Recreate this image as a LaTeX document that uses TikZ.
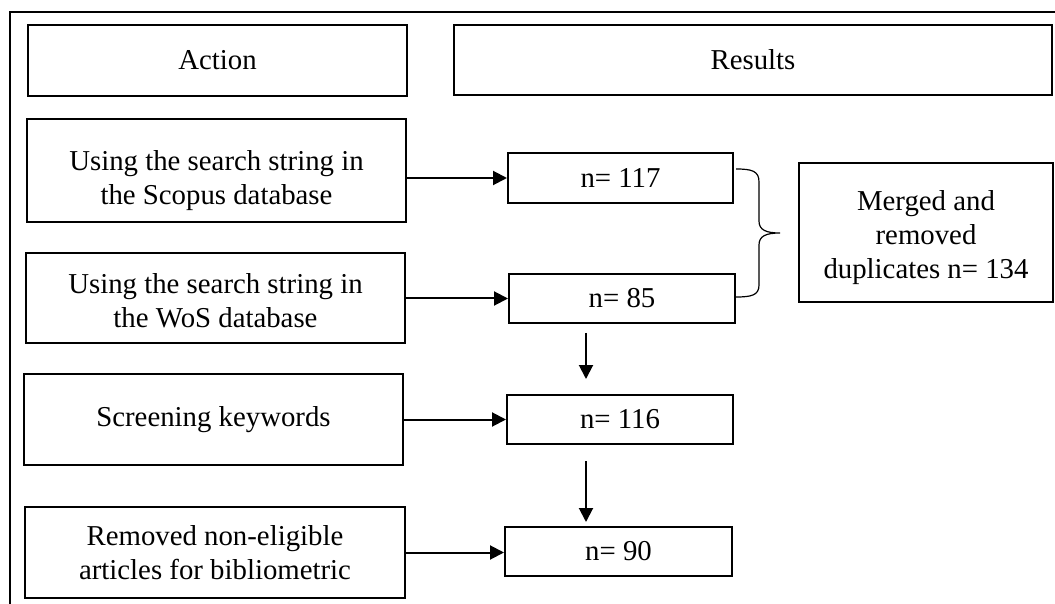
\documentclass[tikz,border=0pt]{standalone}
\usepackage{fontspec}
\setmainfont{Liberation Serif}
\usetikzlibrary{arrows.meta,calc}
\begin{document}
\begin{tikzpicture}[x=0.5pt,y=-0.5pt,
  font=\fontsize{14.4pt}{17pt}\selectfont,
  box/.style={draw, line width=1pt, align=center, inner sep=0pt},
  arr/.style={line width=1pt, -{Triangle[length=7pt,width=7pt]}},
  lbl/.style={align=center, inner sep=0pt}]
\useasboundingbox (0,0) rectangle (1055,604);
\draw[line width=1pt] (1055,12) -- (10,12) -- (10,604);
% header
\node[box, minimum width=189.5pt, minimum height=35.5pt] (act) at (217.5,60.5) {Action};
\node[box, minimum width=299pt, minimum height=35pt] (res) at (753,60) {Results};
% actions
\node[box, minimum width=189.5pt, minimum height=51.5pt,
  label={[lbl,yshift=-5pt]center:{Using the search string in\\the Scopus database}}] (scop) at (216.5,170.5) {};
\node[box, minimum width=189.5pt, minimum height=45pt,
  label={[lbl,yshift=-1.5pt]center:{Using the search string in\\the WoS database}}] (wos) at (215.5,298) {};
\node[box, minimum width=189.5pt, minimum height=45.5pt] (scr) at (213.5,419.5) {Screening keywords};
\node[box, minimum width=190pt, minimum height=45.5pt] (rem) at (215,552.5) {Removed non-eligible\\articles for bibliometric};
% results
\node[box, minimum width=112.5pt, minimum height=25pt] (n117) at (620.5,178) {n= 117};
\node[box, minimum width=113pt, minimum height=24.5pt] (n85) at (622,298.5) {n= 85};
\node[box, minimum width=113pt, minimum height=24.5pt] (n116) at (620,419.5) {n= 116};
\node[box, minimum width=113.5pt, minimum height=24.5pt] (n90) at (618.5,551.5) {n= 90};
\node[box, minimum width=127pt, minimum height=69.5pt,
  label={[lbl,yshift=-2.5pt]center:{Merged and\\removed\\duplicates n= 134}}] (mrg) at (926,232.5) {};
% arrows
\draw[arr] (scop.east |- n117.west) -- (n117.west);
\draw[arr] (wos.east |- n85.west) -- (n85.west);
\draw[arr] (scr.east) -- (scr.east -| n116.west);
\draw[arr] (rem.east) -- (rem.east -| n90.west);
\draw[arr] ($(n85.south)+(-36,9)$) -- ($(n116.north)+(-34,-15)$);
\draw[arr] ($(n116.south)+(-34,16)$) -- ($(n90.north)+(-32.5,-4)$);
% brace
\coordinate (bt) at (736,169);
\coordinate (bm) at (780,233);
\coordinate (bb) at (736,297);
\draw[line width=0.6pt] (bt) .. controls (752,169) and (759,171) .. (759,182)
  -- (759,221) .. controls (759,230) and (766,233) .. (bm)
  .. controls (766,233) and (759,236) .. (759,245)
  -- (759,285) .. controls (759,295) and (752,297) .. (bb);
\end{tikzpicture}
\end{document}
